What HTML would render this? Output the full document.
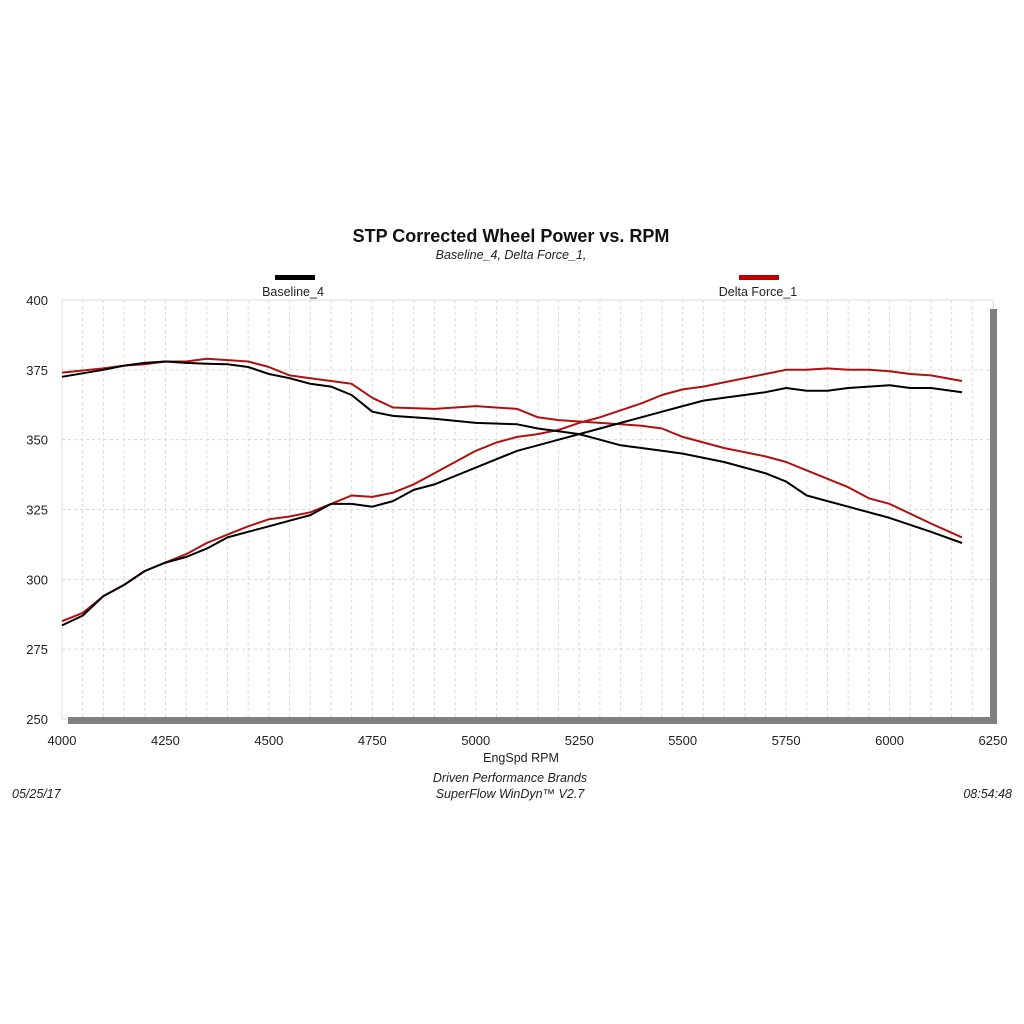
<!DOCTYPE html>
<html><head><meta charset="utf-8"><style>
body{margin:0;background:#fff;}
svg{display:block;font-family:"Liberation Sans",Arial,sans-serif;}
</style></head><body>
<svg id="chart" width="1024" height="1024" viewBox="0 0 1024 1024">
<rect width="1024" height="1024" fill="#fff"/>
<text x="511" y="242" text-anchor="middle" font-size="18" font-weight="bold" fill="#111">STP Corrected Wheel Power vs. RPM</text>
<text x="511" y="259" text-anchor="middle" font-size="12.5" font-style="italic" fill="#222">Baseline_4, Delta Force_1,</text>
<rect x="275" y="275" width="40" height="5" fill="#000"/>
<text x="293" y="296" text-anchor="middle" font-size="12.5" fill="#222">Baseline_4</text>
<rect x="739" y="275" width="40" height="5" fill="#c00000"/>
<text x="758" y="296" text-anchor="middle" font-size="12.5" fill="#222">Delta Force_1</text>
<g id="grid"></g>
<rect x="62" y="300" width="931" height="419" fill="none" stroke="#ddd" stroke-width="1"/>
<rect x="990" y="309" width="7" height="415" fill="#808080"/>
<rect x="68" y="717" width="929" height="7" fill="#808080"/>
<g id="ticks"></g>
<g id="series"></g>
<text x="521" y="762" text-anchor="middle" font-size="12.5" fill="#222">EngSpd  RPM</text>
<text x="510" y="782" text-anchor="middle" font-size="12.5" font-style="italic" fill="#222">Driven Performance Brands</text>
<text x="510" y="798" text-anchor="middle" font-size="12.5" font-style="italic" fill="#222">SuperFlow WinDyn™  V2.7</text>
<text x="12" y="798" font-size="12.5" font-style="italic" fill="#222">05/25/17</text>
<text x="1012" y="798" text-anchor="end" font-size="12.5" font-style="italic" fill="#222">08:54:48</text>
</svg>
<script>
const xTicks=[4000,4250,4500,4750,5000,5250,5500,5750,6000,6250];
const yTicks=[250,275,300,325,350,375,400];
const rpmDesc=[4000,4100,4150,4200,4250,4300,4350,4400,4450,4500,4550,4600,4650,4700,4750,4800,4900,5000,5100,5150,5200,5250,5300,5350,5400,5450,5500,5600,5700,5750,5800,5850,5900,5950,6000,6100,6175];
const baseTorque=[372.5,375,376.5,377.5,378,377.5,377.2,377,376,373.5,372,370,369,366,360,358.5,357.5,356,355.5,354,353,352,350,348,347,346,345,342,338,335,330,328,326,324,322,317,313];
const deltaTorque=[374,375.5,376.5,377,378,378,379,378.5,378,376,373,372,371,370,365,361.5,361,362,361,358,357,356.5,356,355.5,355,354,351,347,344,342,339,336,333,329,327,320,315];
const rpmAsc=[4000,4050,4100,4150,4200,4250,4300,4350,4400,4450,4500,4550,4600,4650,4700,4750,4800,4850,4900,4950,5000,5050,5100,5150,5200,5250,5300,5350,5400,5450,5500,5550,5600,5650,5700,5750,5800,5850,5900,5950,6000,6050,6100,6175];
const basePower=[283.5,287,294,298,303,306,308,311,315,317,319,321,323,327,327,326,328,332,334,337,340,343,346,348,350,352,354,356,358,360,362,364,365,366,367,368.5,367.5,367.5,368.5,369,369.5,368.5,368.5,367];
const deltaPower=[285,288,294,298,303,306,309,313,316,319,321.5,322.5,324,327,330,329.5,331,334,338,342,346,349,351,352,353.5,356,358,360.5,363,366,368,369,370.5,372,373.5,375,375,375.5,375,375,374.5,373.5,373,371];
const NS='http://www.w3.org/2000/svg';
const X=v=>62+(v-4000)/2250*931;
const Y=v=>719-(v-250)/150*419;
function mk(tag,attrs,parent){const e=document.createElementNS(NS,tag);for(const k in attrs)e.setAttribute(k,attrs[k]);parent.appendChild(e);return e;}
const grid=document.getElementById('grid');
for(let r=4050;r<6250;r+=50){
 const l=mk('line',{x1:X(r),x2:X(r),y1:300,y2:719,stroke:'#d8d8d8','stroke-dasharray':'3,3'},grid);
 
 
}
yTicks.forEach(v=>{if(v===250||v===400)return;
 const l=mk('line',{x1:62,x2:993,y1:Y(v),y2:Y(v),stroke:'#d8d8d8','stroke-dasharray':'3,3'},grid);
 
 
});
const ticks=document.getElementById('ticks');
xTicks.forEach(v=>{
 const t=mk('text',{x:X(v),y:745,'text-anchor':'middle','font-size':'13',fill:'#222'},ticks);
 t.textContent=v;
 
 
});
yTicks.forEach(v=>{
 const t=mk('text',{x:48,y:Y(v)+5,'text-anchor':'end','font-size':'13',fill:'#222'},ticks);
 t.textContent=v;
 
 
});
const series=document.getElementById('series');
function line(xs,ys,color,name){
 const d=xs.map((x,i)=>(i?'L':'M')+X(x).toFixed(1)+','+Y(ys[i]).toFixed(1)).join('');
 const p=mk('path',{d:d,fill:'none',stroke:color,'stroke-width':'2','stroke-linejoin':'round'},series);
 
 
}
line(rpmDesc,deltaTorque,'#b01010','delta-force-torque-line');
line(rpmAsc,deltaPower,'#b01010','delta-force-power-line');
line(rpmDesc,baseTorque,'#000','baseline-torque-line');
line(rpmAsc,basePower,'#000','baseline-power-line');
</script>
</body></html>
